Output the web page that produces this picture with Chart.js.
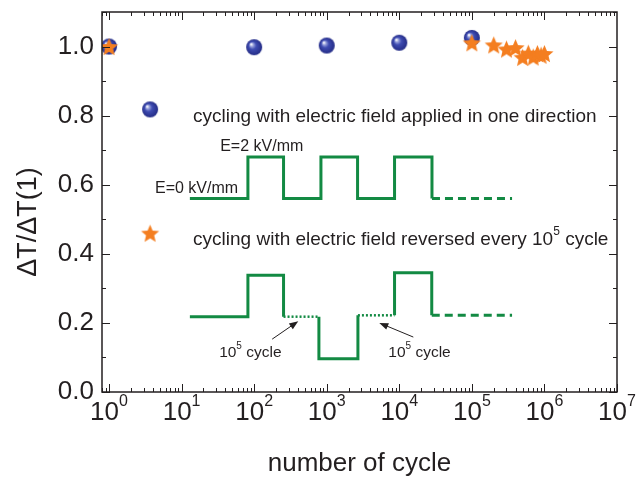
<!DOCTYPE html>
<html>
<head>
<meta charset="utf-8">
<script src="https://cdn.jsdelivr.net/npm/chart.js@4.4.1/dist/chart.umd.min.js"></script>
<style>
  html, body { margin: 0; padding: 0; background: #fff; }
</style>
</head>
<body>
<canvas id="chart" width="638" height="479"></canvas>
<script>
// measured ΔT/ΔT(1) against cycle number
const cycles = [1, 100, 1000, 10000, 100000];
const ratioOneDirection = [1.0, 0.998, 1.003, 1.011, 1.025];
const cyclesReversed = [1, 100000, 200000, 300000, 400000, 500000, 600000, 700000, 800000, 900000, 1000000];
const ratioReversed = [1.0, 1.011, 1.005, 0.993, 0.997, 0.969, 0.981, 0.970, 0.980, 0.975, 0.980];

const yTicks = [0, 0.2, 0.4, 0.6, 0.8, 1.0];
const xDecades = [0, 1, 2, 3, 4, 5, 6, 7];

// symbol keys
const keyX = [3.68];
const keySphereY = [0.818];
const keyStarY = [0.46];

// field sketch, one direction
const pulseX = [13, 82, 82, 254, 254, 832, 832, 2660, 2660, 8600, 8600, 28200, 28200];
const pulseY = [0.56, 0.56, 0.68, 0.68, 0.56, 0.56, 0.68, 0.68, 0.56, 0.56, 0.68, 0.68, 0.56];
const pulseTailX = [28200, 358000];
const pulseTailY = [0.56, 0.56];

// field sketch, reversed every 10^5 cycles
const revAX = [13, 82, 82, 254, 254];
const revAY = [0.218, 0.218, 0.338, 0.338, 0.218];
const revGap1X = [254, 780];
const revGap1Y = [0.218, 0.218];
const revBX = [780, 780, 2690, 2690];
const revBY = [0.218, 0.096, 0.096, 0.222];
const revGap2X = [2690, 8600];
const revGap2Y = [0.222, 0.222];
const revCX = [8600, 8600, 28000, 28000];
const revCY = [0.222, 0.345, 0.345, 0.222];
const revTailX = [28000, 358000];
const revTailY = [0.222, 0.222];

const INK = '#231f20';
const GREEN = '#138a43';
const ORANGE = '#f47e20';
const FONT = 'Liberation Sans, Arial, sans-serif';

const pts = (xs, ys) => xs.map((x, i) => ({ x: x, y: ys[i] }));

function sphereImage(r) {
  const s = 2 * r + 2;
  const c = document.createElement('canvas');
  c.width = c.height = s;
  const g = c.getContext('2d');
  const m = s / 2;
  const grad = g.createRadialGradient(m - r * 0.38, m - r * 0.38, r * 0.05, m, m, r);
  grad.addColorStop(0, '#ffffff');
  grad.addColorStop(0.18, '#9aa3dc');
  grad.addColorStop(0.45, '#3f4cb2');
  grad.addColorStop(1, '#242c86');
  g.beginPath();
  g.arc(m, m, r, 0, Math.PI * 2);
  g.fillStyle = grad;
  g.fill();
  return c;
}

function starImage(r, color) {
  const s = Math.ceil(2 * r + 2);
  const c = document.createElement('canvas');
  c.width = c.height = s;
  const g = c.getContext('2d');
  g.translate(s / 2, s / 2 + r * 0.1);
  g.beginPath();
  for (let i = 0; i < 10; i++) {
    const rad = i % 2 ? r * 0.45 : r;
    const a = -Math.PI / 2 + i * Math.PI / 5;
    g.lineTo(rad * Math.cos(a), rad * Math.sin(a));
  }
  g.closePath();
  g.fillStyle = color;
  g.fill();
  return c;
}

const sphere = sphereImage(8);
const star = starImage(9.5, ORANGE);

function sketch(xs, ys, dash, width) {
  return {
    data: pts(xs, ys),
    showLine: true,
    pointRadius: 0,
    borderColor: GREEN,
    borderWidth: width || 3,
    borderDash: dash || [],
    borderCapStyle: 'butt',
    borderJoinStyle: 'miter',
    order: 3
  };
}

// text in data coordinates; parts flagged true are superscripts
const notes = [
  { x: 14.4, y: 0.796, size: 19, parts: [['cycling with electric field applied in one direction']] },
  { x: 34, y: 0.709, size: 16, parts: [['E=2 kV/mm']] },
  { x: 4.3, y: 0.59, size: 16, parts: [['E=0 kV/mm']] },
  { x: 14.4, y: 0.442, size: 19, parts: [['cycling with electric field reversed every 10'], ['5', true], [' cycle']] },
  { x: 32.9, y: 0.113, size: 15.5, parts: [['10'], ['5', true], [' cycle']] },
  { x: 7050, y: 0.113, size: 15.5, parts: [['10'], ['5', true], [' cycle']] }
];
const arrows = [
  { from: [177, 0.153], to: [405, 0.205] },
  { from: [15600, 0.159], to: [5300, 0.2] }
];

function richText(ctx, x, y, parts, size, align) {
  const sup = Math.round(size * 0.62);
  const widths = parts.map(p => {
    ctx.font = (p[1] ? sup : size) + 'px ' + FONT;
    return ctx.measureText(p[0]).width;
  });
  const total = widths.reduce((a, b) => a + b, 0);
  let cx = align === 'center' ? x - total / 2 : x;
  ctx.textAlign = 'left';
  ctx.textBaseline = 'middle';
  parts.forEach((p, i) => {
    ctx.font = (p[1] ? sup : size) + 'px ' + FONT;
    ctx.fillText(p[0], cx, p[1] ? y - size * 0.42 : y);
    cx += widths[i];
  });
}

const decorations = {
  id: 'decorations',
  beforeDatasetsDraw(chart) {
    const ctx = chart.ctx;
    const xs = chart.scales.x, ys = chart.scales.y;
    ctx.save();
    ctx.fillStyle = INK;
    notes.forEach(n => richText(ctx, xs.getPixelForValue(n.x), ys.getPixelForValue(n.y), n.parts, n.size, 'left'));
    ctx.strokeStyle = INK;
    ctx.lineWidth = 1;
    arrows.forEach(a => {
      const x0 = xs.getPixelForValue(a.from[0]), y0 = ys.getPixelForValue(a.from[1]);
      const x1 = xs.getPixelForValue(a.to[0]), y1 = ys.getPixelForValue(a.to[1]);
      const ang = Math.atan2(y1 - y0, x1 - x0);
      ctx.beginPath();
      ctx.moveTo(x0, y0);
      ctx.lineTo(x1 - 6 * Math.cos(ang), y1 - 6 * Math.sin(ang));
      ctx.stroke();
      ctx.beginPath();
      ctx.moveTo(x1, y1);
      ctx.lineTo(x1 - 9 * Math.cos(ang) + 3.5 * Math.sin(ang), y1 - 9 * Math.sin(ang) - 3.5 * Math.cos(ang));
      ctx.lineTo(x1 - 9 * Math.cos(ang) - 3.5 * Math.sin(ang), y1 - 9 * Math.sin(ang) + 3.5 * Math.cos(ang));
      ctx.closePath();
      ctx.fill();
    });
    ctx.restore();
  },
  afterDraw(chart) {
    const ctx = chart.ctx;
    const a = chart.chartArea;
    const xs = chart.scales.x, ys = chart.scales.y;
    ctx.save();
    ctx.strokeStyle = INK;
    ctx.lineWidth = 1.5;
    ctx.strokeRect(a.left, a.top, a.right - a.left, a.bottom - a.top);
    ctx.lineWidth = 1;
    ctx.beginPath();
    // inward ticks on the log axis, bottom and top
    for (let d = -1; d < 7; d++) {
      for (let m = 1; m < 10; m++) {
        const v = m * Math.pow(10, d);
        if (v < xs.min || v > xs.max) continue;
        const px = Math.round(xs.getPixelForValue(v)) + 0.5;
        const len = m === 1 ? 8 : 4;
        ctx.moveTo(px, a.bottom); ctx.lineTo(px, a.bottom - len);
        ctx.moveTo(px, a.top); ctx.lineTo(px, a.top + len);
      }
    }
    const tenM = Math.round(xs.getPixelForValue(1e7)) + 0.5;
    ctx.moveTo(tenM, a.bottom); ctx.lineTo(tenM, a.bottom - 8);
    // inward ticks on the value axis, left and right
    for (let k = 0; k <= 11; k++) {
      const py = Math.round(ys.getPixelForValue(k / 10)) + 0.5;
      const len = k % 2 === 0 ? 8 : 4;
      ctx.moveTo(a.left, py); ctx.lineTo(a.left + len, py);
      ctx.moveTo(a.right, py); ctx.lineTo(a.right - len, py);
    }
    ctx.stroke();
    // decade labels 10^n
    ctx.fillStyle = INK;
    xDecades.forEach(d => {
      richText(ctx, xs.getPixelForValue(Math.pow(10, d)), a.bottom + 21, [['10'], [String(d), true]], 26, 'center');
    });
    // value axis title, sitting a little below the middle of the axis
    ctx.translate(29, 222);
    ctx.rotate(-Math.PI / 2);
    ctx.font = '27px ' + FONT;
    ctx.textAlign = 'center';
    ctx.textBaseline = 'middle';
    ctx.fillText('ΔT/ΔT(1)', 0, 0);
    ctx.restore();
  }
};

new Chart(document.getElementById('chart'), {
  type: 'scatter',
  data: {
    datasets: [
      { data: pts(cyclesReversed, ratioReversed), pointStyle: star, order: 0 },
      { data: pts(cycles, ratioOneDirection), pointStyle: sphere, order: 1 },
      { data: pts(keyX, keyStarY), pointStyle: star, order: 0 },
      { data: pts(keyX, keySphereY), pointStyle: sphere, order: 1 },
      sketch(pulseX, pulseY),
      sketch(pulseTailX, pulseTailY, [8, 5]),
      sketch(revAX, revAY),
      sketch(revGap1X, revGap1Y, [2, 2], 2.5),
      sketch(revBX, revBY),
      sketch(revGap2X, revGap2Y, [2, 2], 2.5),
      sketch(revCX, revCY),
      sketch(revTailX, revTailY, [8, 5])
    ]
  },
  options: {
    responsive: false,
    animation: false,
    layout: { padding: { top: 12, right: 21, left: 0, bottom: 0 } },
    plugins: { legend: { display: false }, tooltip: { enabled: false } },
    scales: {
      x: {
        type: 'logarithmic',
        min: 0.8,
        max: 1e7,
        grid: { display: false },
        border: { display: false },
        ticks: { display: false },
        title: {
          display: true,
          text: 'number of cycle',
          color: INK,
          font: { family: FONT, size: 26 },
          padding: { top: 0, bottom: 0 }
        },
        afterFit(scale) {
          scale.height = 87;
          scale.paddingLeft = 0;
          scale.paddingRight = 0;
        }
      },
      y: {
        min: 0,
        max: 1.1,
        grid: { display: false, drawTicks: false },
        border: { display: false },
        afterBuildTicks(scale) { scale.ticks = yTicks.map(v => ({ value: v })); },
        ticks: {
          color: INK,
          padding: 8,
          font: { family: FONT, size: 26 },
          callback: v => v.toFixed(1)
        },
        title: { display: false },
        afterFit(scale) {
          scale.width = 102;
          scale.paddingTop = 0;
          scale.paddingBottom = 0;
        }
      }
    }
  },
  plugins: [decorations]
});
</script>
</body>
</html>
